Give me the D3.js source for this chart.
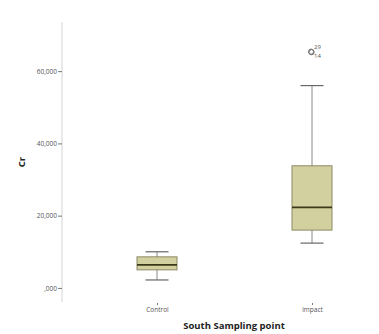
<!DOCTYPE html>
<html>
<head>
<meta charset="utf-8">
<script src="https://cdn.jsdelivr.net/npm/d3@7"></script>
<style>
  body { margin: 0; background: #fff; }
  text { font-family: "Open Sans", "DejaVu Sans", sans-serif; }
</style>
</head>
<body>
<svg id="drawspace" width="379" height="334"></svg>
<script>
let categories = ["Control", "impact"];
let whiskerLow = [2200, 12400];
let q1 = [5000, 16000];
let median = [6350, 22300];
let q3 = [8600, 33800];
let whiskerHigh = [10000, 56000];
let outliers = [{cat: "impact", value: 65400, top: "29", bottom: "14"}];
let yTicks = [0, 20000, 40000, 60000];
let yTickLabels = [",000", "20,000", "40,000", "60,000"];

let svg = d3.select("#drawspace");

let yscale = d3.scaleLinear().domain([-3900, 73600]).range([302, 22]);
let xscale = d3.scalePoint().domain(categories).range([79.5, 389.5]).padding(0.5);

// y axis
let yAxis = svg.append("g").attr("transform", "translate(62,0)")
  .call(d3.axisLeft(yscale).tickValues(yTicks).tickSize(4).tickSizeOuter(0)
    .tickFormat((d, i) => yTickLabels[i]));
yAxis.select(".domain").attr("stroke", "#d4d4d4").attr("d", "M0," + yscale.range()[1] + "V" + yscale.range()[0]);
yAxis.selectAll(".tick line").attr("stroke", "#777");
yAxis.selectAll(".tick text").attr("fill", "#555").attr("font-size", 6.5).attr("x", -5);

// x axis (ticks only)
let xAxis = svg.append("g").attr("transform", "translate(0,303)")
  .call(d3.axisBottom(xscale).tickSize(2).tickSizeOuter(0));
xAxis.select(".domain").remove();
xAxis.selectAll(".tick line").attr("stroke", "#777");
xAxis.selectAll(".tick text").attr("fill", "#555").attr("font-size", 6.5).attr("y", 4);

let boxW = 40, capW = 23;
let data = categories.map((c, i) => ({cat: c, lo: whiskerLow[i], q1: q1[i], med: median[i], q3: q3[i], hi: whiskerHigh[i]}));

let g = svg.append("g");
// whisker stems
g.selectAll(".stem").data(data).enter().append("line")
  .attr("x1", d => xscale(d.cat)).attr("x2", d => xscale(d.cat))
  .attr("y1", d => yscale(d.lo)).attr("y2", d => yscale(d.hi))
  .attr("stroke", "#888").attr("stroke-width", 1);
// caps
["lo", "hi"].forEach(k => {
  g.selectAll(".cap" + k).data(data).enter().append("line")
    .attr("x1", d => xscale(d.cat) - capW / 2).attr("x2", d => xscale(d.cat) + capW / 2)
    .attr("y1", d => yscale(d[k])).attr("y2", d => yscale(d[k]))
    .attr("stroke", "#666").attr("stroke-width", 1.2);
});
// boxes
g.selectAll(".box").data(data).enter().append("rect")
  .attr("x", d => xscale(d.cat) - boxW / 2).attr("width", boxW)
  .attr("y", d => yscale(d.q3)).attr("height", d => yscale(d.q1) - yscale(d.q3))
  .attr("fill", "#d3d09f").attr("stroke", "#8c8a66").attr("stroke-width", 1);
// medians
g.selectAll(".med").data(data).enter().append("line")
  .attr("x1", d => xscale(d.cat) - boxW / 2).attr("x2", d => xscale(d.cat) + boxW / 2)
  .attr("y1", d => yscale(d.med)).attr("y2", d => yscale(d.med))
  .attr("stroke", "#3a3818").attr("stroke-width", 1.8);

// outliers
outliers.forEach(o => {
  let cx = xscale(o.cat) - 1, cy = yscale(o.value);
  g.append("circle").attr("cx", cx).attr("cy", cy).attr("r", 2.6)
    .attr("fill", "none").attr("stroke", "#666").attr("stroke-width", 0.9);
  g.append("circle").attr("cx", cx + 0.6).attr("cy", cy + 0.6).attr("r", 2.6)
    .attr("fill", "none").attr("stroke", "#666").attr("stroke-width", 0.9);
  g.append("text").attr("x", cx + 3).attr("y", cy - 3).attr("font-size", 6).attr("fill", "#555").text(o.top);
  g.append("text").attr("x", cx + 3).attr("y", cy + 6).attr("font-size", 6).attr("fill", "#555").text(o.bottom);
});

// titles
svg.append("text").attr("x", 234).attr("y", 329).attr("text-anchor", "middle")
  .attr("font-size", 9.5).attr("font-weight", "bold").attr("fill", "#222").text("South Sampling point");
svg.append("text").attr("transform", "translate(25,162) rotate(-90)").attr("text-anchor", "middle")
  .attr("font-size", 9.5).attr("font-weight", "bold").attr("fill", "#222").text("Cr");
</script>
</body>
</html>
